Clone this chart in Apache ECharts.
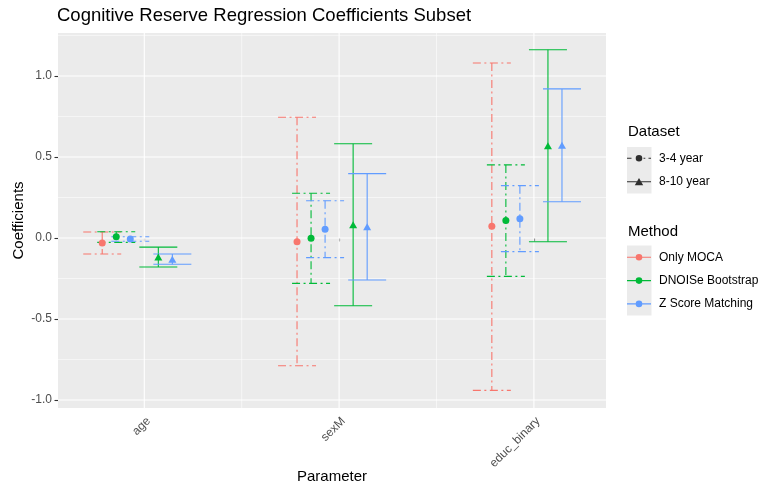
<!DOCTYPE html>
<html>
<head>
<meta charset="utf-8">
<title>Cognitive Reserve Regression Coefficients Subset</title>
<script src="https://cdn.jsdelivr.net/npm/echarts@6/dist/echarts.min.js"></script>
<style>
  html, body { margin: 0; padding: 0; background: #fff; }
  #chart { width: 759px; height: 489px; }
</style>
</head>
<body>
<div id="chart"></div>
<script>
// categories and groups
var params = ['age', 'sexM', 'educ_binary'];
var methods = ['Only MOCA', 'DNOISe Bootstrap', 'Z Score Matching'];
var datasets = ['3-4 year', '8-10 year'];

// 3-4 year: estimate / lower / upper, one value per parameter
var est34Moca = [-0.031, -0.023, 0.072];
var low34Moca = [-0.099, -0.788, -0.940];
var up34Moca = [0.037, 0.745, 1.080];
var est34Dnoise = [0.008, -0.002, 0.108];
var low34Dnoise = [-0.027, -0.280, -0.237];
var up34Dnoise = [0.039, 0.276, 0.451];
var est34Zscore = [-0.006, 0.054, 0.119];
var low34Zscore = [-0.020, -0.121, -0.084];
var up34Zscore = [0.008, 0.230, 0.323];

// 8-10 year (no Only MOCA model)
var est810Dnoise = [-0.118, 0.082, 0.570];
var low810Dnoise = [-0.179, -0.418, -0.023];
var up810Dnoise = [-0.056, 0.582, 1.162];
var est810Zscore = [-0.131, 0.069, 0.572];
var low810Zscore = [-0.162, -0.259, 0.224];
var up810Zscore = [-0.099, 0.397, 0.920];

// axis breaks
var yMajor = [-1, -0.5, 0, 0.5, 1];
var yMinor = [-0.75, -0.25, 0.25, 0.75, 1.25];
var xMajor = [1, 2, 3];
var xMinor = [1.5, 2.5];

var colors = ['#F8766D', '#00BA38', '#619CFF'];
var dotDash = [8, 3.5, 2, 3.5];
var capHalf = 0.0975;   // half errorbar width, axis units
var slot = 0.072;       // dodge step, axis units

// one entry per drawn group: method index, dataset index, dodge slot
var groups = [
  {m: 0, d: 0, pos: -3, est: est34Moca, low: low34Moca, up: up34Moca},
  {m: 1, d: 0, pos: -2, est: est34Dnoise, low: low34Dnoise, up: up34Dnoise},
  {m: 2, d: 0, pos: -1, est: est34Zscore, low: low34Zscore, up: up34Zscore},
  {m: 1, d: 1, pos: 1, est: est810Dnoise, low: low810Dnoise, up: up810Dnoise},
  {m: 2, d: 1, pos: 2, est: est810Zscore, low: low810Zscore, up: up810Zscore}
];

var chart = echarts.init(document.getElementById('chart'));

function gridLines(values, horizontal, width) {
  return {
    type: 'custom',
    silent: true,
    z: 1,
    data: values.map(function (v) { return horizontal ? [1, v] : [v, 0]; }),
    renderItem: function (p, api) {
      var cs = p.coordSys;
      var pt = api.coord([api.value(0), api.value(1)]);
      var shape = horizontal
        ? {x1: cs.x, y1: pt[1], x2: cs.x + cs.width, y2: pt[1]}
        : {x1: pt[0], y1: cs.y, x2: pt[0], y2: cs.y + cs.height};
      return {type: 'line', shape: shape, style: {stroke: '#fff', lineWidth: width}};
    }
  };
}

var series = [
  gridLines(yMinor, true, 0.55),
  gridLines(xMinor, false, 0.55),
  gridLines(yMajor, true, 1.1),
  gridLines(xMajor, false, 1.1)
];

groups.forEach(function (g) {
  var color = colors[g.m];
  var dash = g.d === 0 ? dotDash : null;
  var off = g.pos * slot;
  series.push({
    name: methods[g.m],
    type: 'custom',
    z: 2,
    itemStyle: {color: color},
    encode: {x: 0, y: [1, 2]},
    data: params.map(function (name, i) { return [i + 1 + off, g.low[i], g.up[i]]; }),
    renderItem: function (p, api) {
      var x = api.value(0);
      var top = api.coord([x, api.value(2)]);
      var bot = api.coord([x, api.value(1)]);
      var half = api.size([capHalf, 0])[0];
      var style = {stroke: color, lineWidth: 1.1, lineDash: dash, fill: null};
      return {
        type: 'group',
        children: [
          {type: 'line', shape: {x1: top[0], y1: top[1], x2: bot[0], y2: bot[1]}, style: style},
          {type: 'line', shape: {x1: top[0] - half, y1: top[1], x2: top[0] + half, y2: top[1]}, style: style},
          {type: 'line', shape: {x1: bot[0] - half, y1: bot[1], x2: bot[0] + half, y2: bot[1]}, style: style}
        ]
      };
    }
  });
  series.push({
    name: methods[g.m],
    type: 'scatter',
    z: 3,
    symbol: g.d === 0 ? 'circle' : 'triangle',
    symbolSize: g.d === 0 ? 7 : [8, 7],
    itemStyle: {color: color, opacity: 1},
    data: params.map(function (name, i) { return [i + 1 + off, g.est[i]]; })
  });
});

// empty series so the Dataset legend has entries
datasets.forEach(function (name) {
  series.push({name: name, type: 'scatter', data: [], itemStyle: {color: '#000'}});
});

var lineBar = 'M0,-0.55h24v1.1h-24z';
var circ = 'M15.3,0a3.3,3.3 0 1,1 -6.6,0a3.3,3.3 0 1,1 6.6,0z';
var iconDotDash = 'M0,-0.55h4.5v1.1h-4.5z M16.5,-0.55h1.8v1.1h-1.8z M21.5,-0.55h2.5v1.1h-2.5z ' + circ;
var iconTriangle = lineBar + ' M12,-3.8L16.2,3.4L7.8,3.4z';
var iconCircle = lineBar + ' ' + circ;

var font = '"Liberation Sans", Arial, Helvetica, sans-serif';

var option = {
  animation: false,
  backgroundColor: '#fff',
  textStyle: {fontFamily: font},
  title: {
    text: 'Cognitive Reserve Regression Coefficients Subset',
    left: 57,
    top: 6,
    padding: 0,
    textStyle: {fontFamily: font, fontSize: 18.5, fontWeight: 'normal', color: '#000'}
  },
  grid: {
    left: 58, top: 33, right: 153, bottom: 81,
    outerBoundsMode: 'none', containLabel: false,
    show: true, backgroundColor: '#EBEBEB', borderWidth: 0
  },
  xAxis: {
    type: 'value',
    min: 0.557,
    max: 3.37,
    name: 'Parameter',
    nameLocation: 'middle',
    nameMoveOverlap: false,
    nameGap: 61,
    nameTextStyle: {fontFamily: font, fontSize: 15, color: '#000'},
    axisLine: {show: false},
    splitLine: {show: false},
    axisTick: {show: true, length: 3.5, customValues: xMajor, lineStyle: {color: '#333', width: 1.1}},
    axisLabel: {
      customValues: xMajor,
      rotate: 45,
      margin: 7,
      verticalAlign: 'top',
      fontSize: 12,
      color: '#4D4D4D',
      fontFamily: font,
      formatter: function (v) { return params[Math.round(v) - 1]; }
    }
  },
  yAxis: {
    type: 'value',
    min: -1.049,
    max: 1.265,
    name: 'Coefficients',
    nameLocation: 'middle',
    nameMoveOverlap: false,
    nameGap: 32,
    nameTextStyle: {fontFamily: font, fontSize: 15, color: '#000'},
    axisLine: {show: false},
    splitLine: {show: false},
    axisTick: {show: true, length: 3.5, customValues: yMajor, lineStyle: {color: '#333', width: 1.1}},
    axisLabel: {
      customValues: yMajor,
      margin: 6,
      fontSize: 12,
      color: '#4D4D4D',
      fontFamily: font,
      formatter: function (v) { return v.toFixed(1); }
    }
  },
  legend: [
    {
      data: [
        {name: datasets[0], icon: 'path://' + iconDotDash},
        {name: datasets[1], icon: 'path://' + iconTriangle}
      ],
      orient: 'vertical',
      left: 627,
      top: 152.3,
      padding: 0,
      itemWidth: 24,
      itemHeight: 12,
      itemGap: 11.3,
      selectedMode: false,
      textStyle: {fontFamily: font, fontSize: 12, color: '#000', padding: [0, 0, 0, 3]}
    },
    {
      data: methods.map(function (name) { return {name: name, icon: 'path://' + iconCircle}; }),
      orient: 'vertical',
      left: 627,
      top: 251.3,
      padding: 0,
      itemWidth: 24,
      itemHeight: 12,
      itemGap: 11.3,
      selectedMode: false,
      textStyle: {fontFamily: font, fontSize: 12, color: '#000', padding: [0, 0, 0, 3]}
    }
  ],
  graphic: [
    {type: 'rect', left: 627, top: 147, z: -1, shape: {width: 24.5, height: 46.5}, style: {fill: '#EBEBEB'}},
    {type: 'rect', left: 627, top: 245.5, z: -1, shape: {width: 24.5, height: 70}, style: {fill: '#EBEBEB'}},
    {type: 'text', left: 628, top: 124, style: {text: 'Dataset', font: '15px ' + font, fill: '#000'}},
    {type: 'text', left: 628, top: 224, style: {text: 'Method', font: '15px ' + font, fill: '#000'}}
  ],
  series: series
};

chart.setOption(option);
</script>
</body>
</html>
